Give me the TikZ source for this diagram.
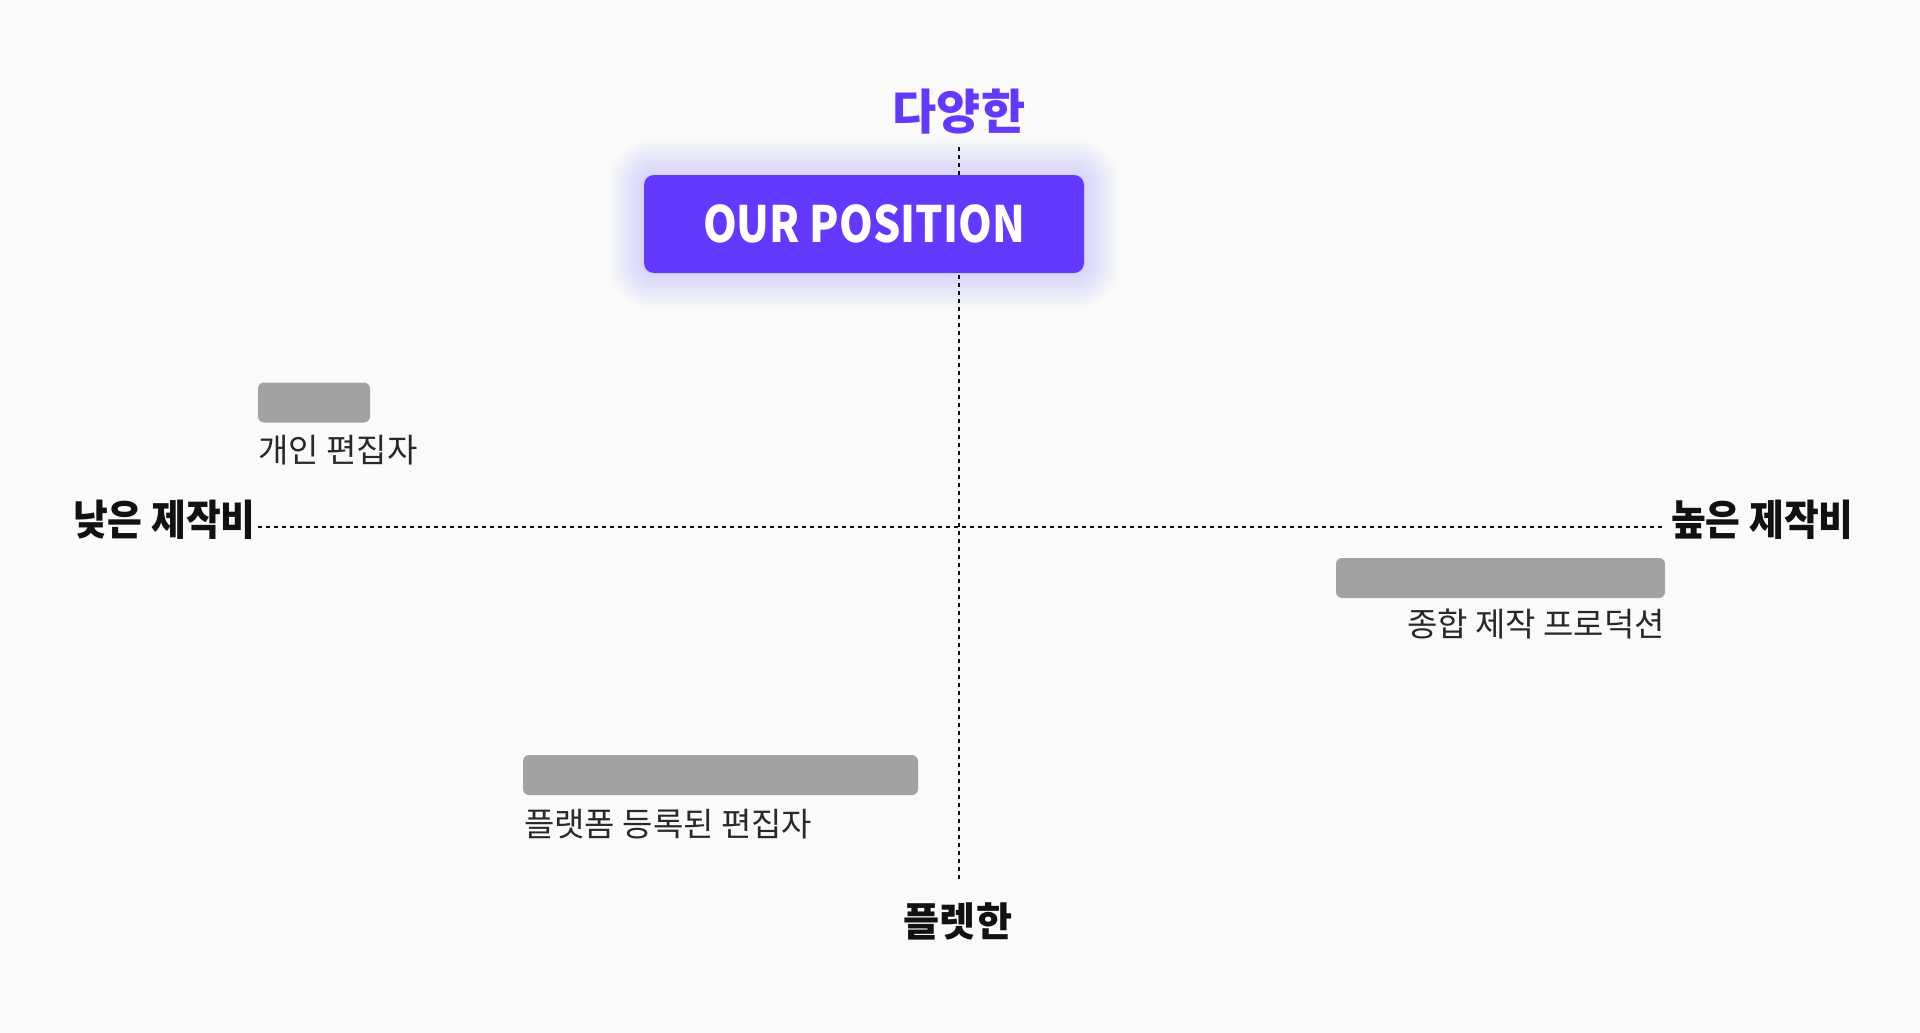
\documentclass[tikz,border=0pt]{standalone}
\usepackage{fontspec}
\setmainfont{Noto Sans CJK KR}
\usetikzlibrary{backgrounds}
\definecolor{bgcol}{HTML}{F9FAF9}
\definecolor{accent}{HTML}{6338FF}
\definecolor{barcol}{HTML}{A2A2A2}
\definecolor{ink}{HTML}{111111}
\pgfdeclarelayer{bglayer}
\pgfdeclarelayer{glowlayer}
\pgfsetlayers{bglayer,glowlayer,main}
\newcommand{\narrow}[2]{\scalebox{#1}[1]{#2}}
\tikzset{
  axislabel/.style={inner sep=0pt, text=ink, font=\fontsize{42}{48}\selectfont\bfseries},
  axisline/.style={draw=ink, line width=1.8pt, dash pattern=on 4pt off 4pt},
  posbox/.style={fill=accent, rounded corners=10pt, text=white, inner sep=0pt,
    minimum width=440pt, minimum height=98pt, font=\fontsize{50}{56}\selectfont\bfseries},
  bar/.style={fill=barcol, rounded corners=6pt, inner sep=0pt, minimum height=40pt},
  barlabel/.style={inner sep=0pt, text=ink!90, font=\fontsize{33}{38}\selectfont},
}
\begin{document}
\begin{tikzpicture}[x=1pt,y=-1pt]
\begin{pgfonlayer}{bglayer}
\fill[bgcol] (0,0) rectangle (1920,1033);
\end{pgfonlayer}
\useasboundingbox (0,0) rectangle (1920,1033);
% axes
\coordinate (vtop) at (959,147);
\coordinate (vbot) at (959,879);
\coordinate (hleft) at (258,527);
\coordinate (hright) at (1665,527);
\draw[axisline] (vtop) -- (vbot);
\draw[axisline] (hleft) -- (hright);
% axis labels
\node[axislabel, text=accent, font=\fontsize{48}{54}\selectfont\bfseries, anchor=base] (top) at (959,129) {\narrow{1.0}{다양한}};
\node[axislabel, font=\fontsize{40}{46}\selectfont\bfseries, anchor=base] (bottom) at (958,936) {\narrow{0.98}{플렛한}};
\node[axislabel, anchor=base west] (left) at (73,535) {\narrow{0.9}{낮은 제작비}};
\node[axislabel, anchor=base west] (right) at (1671,535) {\narrow{0.9}{높은 제작비}};
% our position
\node[posbox] (pos) at (864,224) {\narrow{0.86}{OUR POSITION}};
\begin{pgfonlayer}{glowlayer}
\foreach \r in {2,4,...,36}{
  \fill[accent, opacity=0.008, rounded corners=10pt+\r pt]
    ([shift={(-\r,-\r)}]pos.north west) rectangle ([shift={(\r,\r)}]pos.south east);
}
\end{pgfonlayer}
% competitors
\node[bar, minimum width=112pt] (b1) at (314,402.5) {};
\node[barlabel, anchor=base west] (l1) at (258,462) {개인 편집자};
\node[bar, minimum width=329pt] (b2) at (1500.5,578) {};
\node[barlabel, anchor=base east] (l2) at (1665,636) {종합 제작 프로덕션};
\node[bar, minimum width=395pt] (b3) at (720.5,775) {};
\node[barlabel, anchor=base west] (l3) at (524,836) {플랫폼 등록된 편집자};
\end{tikzpicture}
\end{document}
